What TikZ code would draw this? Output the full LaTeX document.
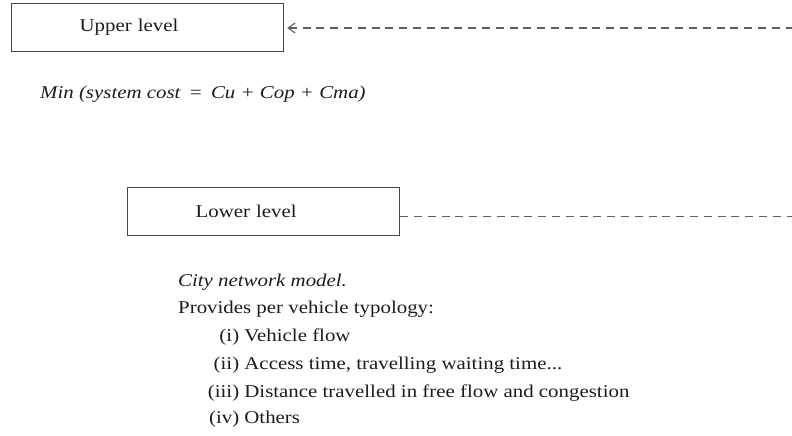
\documentclass[tikz,border=0pt]{standalone}
\usepackage{fontspec}
\setmainfont{Liberation Serif}[FakeStretch=1.16]
\usetikzlibrary{arrows.meta,positioning}
\definecolor{inkgray}{RGB}{30,27,28}
\definecolor{boxgray}{RGB}{70,70,70}
\definecolor{dashgray}{RGB}{95,95,95}

\begin{document}
\begin{tikzpicture}[x=1pt, y=-1pt,
    every node/.style={font=\fontsize{18}{22}\selectfont, text=inkgray},
    levelbox/.style={draw=boxgray, line width=1.2pt, minimum width=272pt, minimum height=48pt,
      text width=136pt, align=left, inner xsep=68pt, inner ysep=0pt, anchor=north west},
    textline/.style={inner sep=0pt, anchor=base west},
    dashlink/.style={draw=dashgray, line width=1.1pt, dash pattern=on 8pt off 5.8pt}]
  \useasboundingbox (0,0) rectangle (792,436);

  % Upper level
  \node[levelbox] (upper) at (11,3) {Upper level};
  \coordinate (upend) at (792,28);
  \draw[dashlink, {Straight Barb[length=7pt,width=10pt]}-, shorten <=3pt] (upper.east |- upend) -- (upend);
  \node[textline] (goal) at (40,98) {\itshape Min (system cost~\,=\,~Cu + Cop + Cma)};

  % Lower level
  \node[levelbox] (lower) at (127,187) {Lower level};
  \coordinate (lowend) at (792,216.5);
  \draw[dashlink] (lower.east |- lowend) -- (lowend);

  % description of the lower level
  \node[textline] (city) at (178,286) {\itshape City network model.};
  \node[textline] (provides) at (178,313) {Provides per vehicle typology:};
  \node[textline] (itemi) at (206,341) {\makebox[33pt][r]{(i)} Vehicle flow};
  \node[textline] (itemii) at (206,369) {\makebox[33pt][r]{(ii)} Access time, travelling waiting time...};
  \node[textline] (itemiii) at (206,397) {\makebox[33pt][r]{(iii)} Distance travelled in free flow and congestion};
  \node[textline] (itemiv) at (206,423) {\makebox[33pt][r]{(iv)} Others};
\end{tikzpicture}
\end{document}
